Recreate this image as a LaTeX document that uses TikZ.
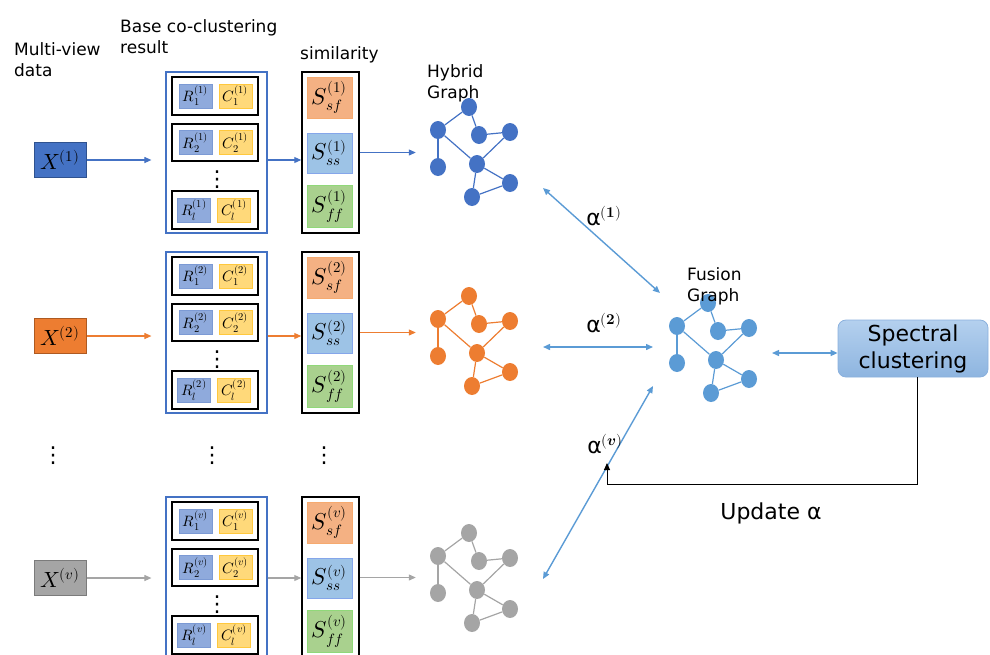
\documentclass[tikz,border=0pt]{standalone}
\usepackage{amsmath}
\usepackage{fontspec}
\usepackage{unicode-math}
\setmainfont{DejaVu Sans}
\setmathfont{Latin Modern Math}
\newcommand\tsz[2]{\text{\fontsize{#1}{#1}\selectfont$\textstyle #2$}}
\usetikzlibrary{arrows.meta,shapes.geometric}
\definecolor{cblue}{HTML}{4472C4}
\definecolor{cblueD}{HTML}{2F528F}
\definecolor{corange}{HTML}{ED7D31}
\definecolor{corangeD}{HTML}{AE5A21}
\definecolor{cgray}{HTML}{A5A5A5}
\definecolor{cgrayD}{HTML}{7B7B7B}
\definecolor{cfuse}{HTML}{5B9BD5}
\definecolor{rfill}{HTML}{8FAADC}
\definecolor{rdraw}{HTML}{7C9AD4}
\definecolor{cfill}{HTML}{FFD97A}
\definecolor{cdraw}{HTML}{FFC83D}
\definecolor{sfcol}{HTML}{F4B183}
\definecolor{sscol}{HTML}{9DC3E6}
\definecolor{ffcol}{HTML}{A9D18E}
\definecolor{sptop}{HTML}{B4D0EE}
\definecolor{spbot}{HTML}{8EB5E0}
\definecolor{spdraw}{HTML}{8AB0DD}
\tikzset{
  xbox/.style={rectangle, minimum width=52pt, minimum height=35pt, inner sep=0pt, line width=1pt, font=\fontsize{22}{24}\selectfont},
  basebox/.style={rectangle, draw=cblue, line width=1.2pt, minimum width=101pt, minimum height=161pt, inner sep=0pt},
  rowbox/.style={rectangle, draw=black, line width=1.5pt, fill=white, minimum width=86pt, minimum height=37pt, inner sep=0pt},
  rbox/.style={rectangle, fill=rfill, draw=rdraw, line width=0.6pt, minimum width=33pt, minimum height=24pt, inner sep=0pt, font=\fontsize{15}{16}\selectfont},
  cbox/.style={rectangle, fill=cfill, draw=cdraw, line width=0.6pt, minimum width=33pt, minimum height=24pt, inner sep=0pt, font=\fontsize{15}{16}\selectfont},
  simbox/.style={rectangle, draw=black, line width=1.5pt, minimum width=57pt, minimum height=161pt, inner sep=0pt},
  sbox/.style={rectangle, line width=0.6pt, minimum width=45pt, minimum height=41pt, inner sep=0pt, font=\fontsize{23}{25}\selectfont},
  gnode/.style={ellipse, minimum width=16pt, minimum height=18pt, inner sep=0pt},
  rowarr/.style={draw=#1, line width=1.1pt, -{Triangle[length=7pt,width=6pt]}},
  alarr/.style={draw=cfuse, line width=1.4pt, {Triangle[length=7pt,width=6pt]}-{Triangle[length=7pt,width=6pt]}},
  fbarr/.style={draw=black, line width=1pt, -{Triangle[length=7pt,width=6pt]}},
  lbl/.style={inner sep=0pt, font=\fontsize{17}{21}\selectfont, align=left},
  biglbl/.style={inner sep=0pt, font=\fontsize{22}{27}\selectfont},
  dotsym/.style={inner sep=0pt, font=\fontsize{22}{24}\selectfont}
}
\newcommand\mygraph[4]{%
  \begin{scope}[shift={(#2,#3)}]
    \foreach \i/\px/\py in {1/469/107,2/438/130,3/479/135,4/510/132,5/438/167,6/477/164,7/510/183,8/472/197}
      \node[gnode, fill=#4] (#1n\i) at (\px,\py) {};
    \foreach \a/\b in {1/2,1/3,3/4,2/5,2/6,6/4,6/8,6/7,8/7}
      \draw[#4, line width=1.2pt] (#1n\a) -- (#1n\b);
  \end{scope}}
\newcommand\viewrow[5]{%
  \begin{scope}[shift={(0,#3)}]
    \node[xbox, fill=#4, draw=#4D] (x#1) at (60,160) {$X^{\tsz{15}{(#5)}}$};
  \end{scope}
  \begin{scope}[shift={(0,#2)}]
    \node[basebox] (b#1) at (216.5,152.5) {};
    \node[rowbox, minimum height=38pt] (b#1r1) at (215,96) {};
    \node[rbox] (b#1R1) at (195.5,96) {$R_{\tsz{10.5}{1}}^{\tsz{10.5}{(#5)}}$};
    \node[cbox] (b#1C1) at (235.5,96) {$C_{\tsz{10.5}{1}}^{\tsz{10.5}{(#5)}}$};
    \node[rowbox] (b#1r2) at (215,142.5) {};
    \node[rbox] (b#1R2) at (195.5,142.5) {$R_{\tsz{10.5}{2}}^{\tsz{10.5}{(#5)}}$};
    \node[cbox] (b#1C2) at (235.5,142.5) {$C_{\tsz{10.5}{2}}^{\tsz{10.5}{(#5)}}$};
    \node[dotsym] (b#1d) at (217,180) {⋮};
    \node[rowbox, minimum height=38pt] (b#1r3) at (215,210) {};
    \node[rbox] (b#1R3) at (194,210) {$R_{\tsz{10.5}{l}}^{\tsz{10.5}{(#5)}}$};
    \node[cbox] (b#1C3) at (234,210) {$C_{\tsz{10.5}{l}}^{\tsz{10.5}{(#5)}}$};
    \node[simbox] (s#1) at (330.5,152.5) {};
    \node[sbox, fill=sfcol, draw=sfcol!85!orange] (s#1sf) at (329.5,97.5) {$S_{\tsz{15}{sf}}^{\tsz{15}{(#5)}}$};
    \node[sbox, fill=sscol, draw=sscol!85!blue, minimum height=40pt] (s#1ss) at (329.5,153) {$S_{\tsz{15}{ss}}^{\tsz{15}{(#5)}}$};
    \node[sbox, fill=ffcol, draw=ffcol!85!green, minimum height=42pt] (s#1ff) at (329.5,206) {$S_{\tsz{15}{ff}}^{\tsz{15}{(#5)}}$};
  \end{scope}
  \draw[rowarr=#4, shorten >=14pt] (x#1.east) -- (x#1.east -| b#1.west);
  \draw[rowarr=#4] (b#1.east |- x#1.east) -- (s#1.west |- x#1.east);
}
\begin{document}
\begin{tikzpicture}[x=1pt, y=-1pt]
\useasboundingbox (0,0) rectangle (990,654);
\clip (0,0) rectangle (990,654);
% titles
\node[lbl, anchor=north west] (tmv) at (14,42) {Multi-view\\data};
\node[lbl, anchor=north west] (tbase) at (120,19) {Base co-clustering\\result};
\node[lbl, anchor=base west] (tsim) at (300,59.5) {similarity};
\node[lbl, anchor=north west] (thyb) at (427,64) {Hybrid\\Graph};
% rows
\viewrow{1}{0}{0}{cblue}{1}
\viewrow{2}{180}{176}{corange}{2}
\viewrow{v}{425}{418}{cgray}{v}
% vertical dots between rows
\node[dotsym] (dx) at (53,456) {⋮};
\node[dotsym] (db) at (212,456) {⋮};
\node[dotsym] (ds) at (324,456) {⋮};
% graphs
\mygraph{ga}{0}{0}{cblue}
\mygraph{gb}{0}{189}{corange}
\mygraph{gv}{0}{426}{cgray}
\mygraph{gf}{239}{196}{cfuse}
\node[lbl, anchor=north west] (tfus) at (687,267) {Fusion\\Graph};
% similarity -> graph
\draw[rowarr=cblue, shorten >=14pt] (s1.east) -- (s1.east -| gan2.west);
\draw[rowarr=corange, shorten >=14pt] (s2.east) -- (s2.east -| gbn2.west);
\draw[rowarr=cgray, shorten >=14pt] (sv.east) -- (sv.east -| gvn2.west);
% alpha arrows
\coordinate (a1s) at (543,188);
\coordinate (a1e) at (660,293);
\coordinate (a2s) at (543,347);
\coordinate (a2e) at (653,347);
\coordinate (avs) at (543,579);
\coordinate (ave) at (653,386);
\draw[alarr] (a1s) -- (a1e);
\draw[alarr] (a2s) -- (a2e);
\draw[alarr] (avs) -- (ave);
\node[biglbl] (al1) at (604,216) {α$^{\tsz{15}{\symbf{(1)}}}$};
\node[biglbl] (al2) at (604,323) {α$^{\tsz{15}{\symbf{(2)}}}$};
\node[biglbl] (alv) at (605,444) {α$^{\tsz{15}{\symbf{(}\symbfit{v}\symbf{)}}}$};
% spectral clustering
\node[rectangle, rounded corners=8pt, top color=sptop, bottom color=spbot, draw=spdraw, line width=0.8pt,
      minimum width=150pt, minimum height=57pt, inner sep=0pt, align=center,
      font=\fontsize{22}{27}\selectfont] (sp) at (913,348.5) {Spectral\\clustering};
\coordinate (fr) at (772,353);
\draw[alarr] (fr) -- (fr -| sp.west);
% feedback
\coordinate (fbend) at (607,463);
\draw[fbarr] ([xshift=4pt]sp.south) -- ++(0,107) -| (fbend);
\node[biglbl] (upd) at (771,513) {Update α};
\end{tikzpicture}
\end{document}
